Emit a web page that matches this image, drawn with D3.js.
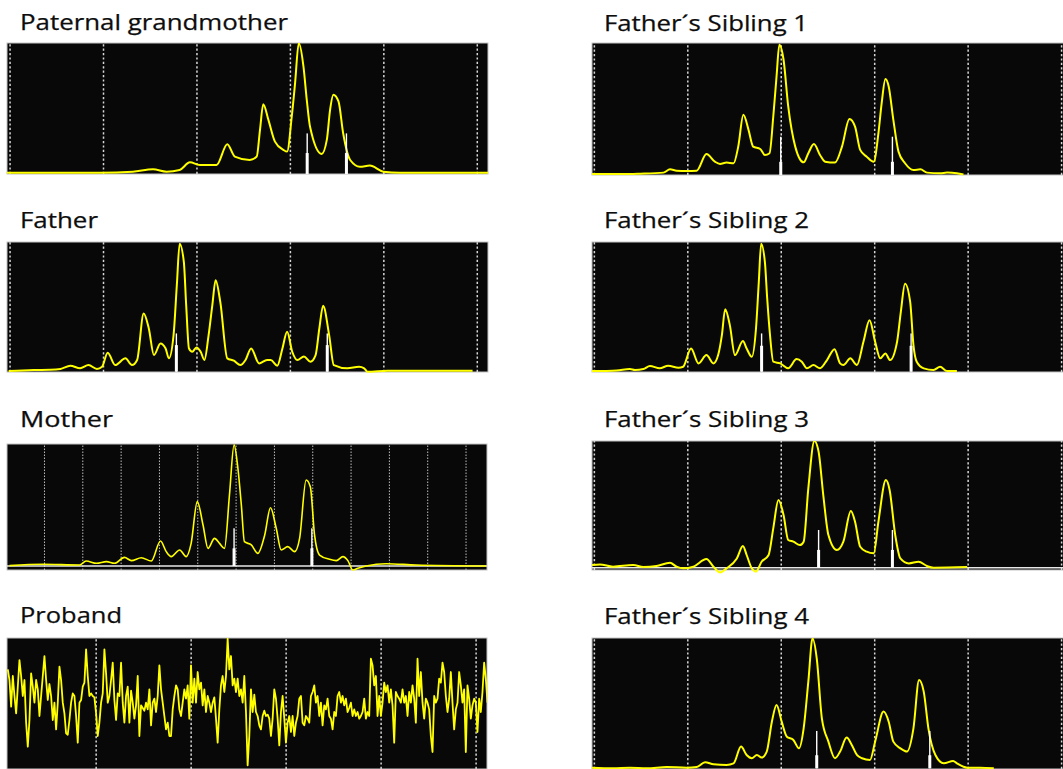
<!DOCTYPE html>
<html><head><meta charset="utf-8">
<script src="https://cdn.jsdelivr.net/npm/d3@7"></script>
<style>body{margin:0;background:#fff;}svg{display:block;}</style>
</head><body>
<svg id="chart" width="1063" height="769"></svg>
<script>
// ---------- DATA ----------
const panelTitles = ["Paternal grandmother","Father´s Sibling 1","Father","Father´s Sibling 2","Mother","Father´s Sibling 3","Proband","Father´s Sibling 4"];
const sizeTicks = [100,120,140,160,180,200];
const motherTicks = [10,20,30,40,50,60,70,80,90,100,110,120];
const probandTicks = [120,140,160,180,200];

// traces: [size, signal %]
const grandmotherTrace = [[99.4,1],[119.3,1],[126.4,1.8],[130.7,3.6],[133.6,1.8],[136.4,3.1],[138.6,8.9],[140.7,6.9],[144.3,6.9],[146.6,22.7],[148.2,13.3],[151.4,10.7],[152.9,13.3],[153.6,33.7],[154.3,53.3],[155.4,41.3],[156.8,24.7],[158.6,18.4],[159.4,17.1],[160.4,43.9],[161.1,69],[161.9,100],[162.9,82.1],[163.6,57],[164.3,36.2],[166.8,15.3],[167.9,26],[168.6,49],[169.3,60.5],[170.4,55.4],[171.4,31.1],[172.9,10.7],[175,5.6],[177.1,6.4],[180,1.8],[183.6,1],[202.5,1]];
const sibling1Trace = [[99.6,0.8],[107.7,0.8],[109.9,1],[114.9,1.8],[116.3,4.3],[117.7,3.3],[119.9,3],[122,3.3],[124.1,15.9],[125.9,10.1],[127,8.4],[128.4,9.4],[129.9,8.9],[130.9,21.5],[132,45.6],[133.1,34.2],[134.1,21.5],[135.6,19.7],[136.6,15.2],[137.6,16.5],[138.4,44.3],[139.1,74.7],[139.7,98.7],[140.6,87.3],[141.6,51.9],[143.1,21.5],[144.9,9.6],[145.9,16.5],[147.1,23.5],[148.4,15.2],[149.5,10.1],[151.6,9.4],[153.1,21.5],[154.7,42.5],[155.9,36.7],[157,19],[158.4,13.9],[159.9,10.1],[160.9,31.6],[161.6,54.4],[162.4,72.7],[163.1,67.1],[164.1,41.8],[165.2,17.7],[166.6,8.9],[168.4,3.8],[169.9,4.3],[171.3,1.8],[174.1,1.3],[175.6,1.8],[177.7,1.3],[179.1,0.3]];
const fatherTrace = [[99.8,0.5],[105.1,1.3],[108.7,1.5],[110.9,2.1],[113,4.6],[115.1,2.6],[116.9,5.1],[118.7,2.1],[119.8,3.8],[121,14.6],[122.6,5.1],[124.8,10.3],[126.2,5.1],[127.3,9],[128.7,44.9],[129.8,33.3],[130.9,12.8],[132.3,21.8],[133.4,17.9],[134.1,10.3],[135.1,28.2],[135.8,66.7],[136.4,98.7],[137.3,84.6],[137.8,51.3],[138.4,17.9],[139.1,15.4],[140,18.7],[140.9,15.4],[141.7,9],[142.6,28.2],[143.4,51.3],[144.1,70.5],[145.1,53.8],[146.6,10.3],[148,8.5],[149.4,5.1],[150.5,9],[151.7,17.9],[153.4,6.4],[155.1,9],[155.9,9],[157.3,4.6],[158.4,17.9],[159.4,30.8],[160.5,15.4],[161.6,9],[163,11.8],[164.4,7.7],[165.5,12.8],[166.3,33.3],[167.1,50.8],[168.4,28.2],[169.4,5.1],[172.3,2.6],[174.8,3.8],[175.9,2.6],[176.6,0],[180.9,0.8],[199.1,0.8]];
const sibling2Trace = [[99.6,0.5],[104.9,1],[107.7,2.1],[108.8,1.3],[110.6,2.1],[112,4.4],[114.1,2.6],[115.9,4.6],[118.1,3.1],[119.1,3.8],[120.8,17.9],[122.4,6.4],[124.1,12.8],[125.6,6.4],[126.6,12.8],[127.4,28.2],[128.1,48.2],[129.1,35.9],[130.2,12.8],[131.9,23.6],[132.7,17.9],[133.8,11.5],[134.7,33.3],[135.3,69.2],[135.8,98.7],[136.6,84.6],[137.1,56.4],[137.7,28.2],[138.4,7.7],[139.9,6.4],[141.6,2.6],[143.4,9.7],[144.5,7.7],[145.6,2.6],[147,5.1],[148.4,2.6],[149.9,9],[151.5,17.4],[152.7,6.4],[153.4,5.1],[154.9,10.3],[156.3,5.1],[157.7,23.1],[159,39.7],[160.2,23.1],[161.3,10.3],[162.4,14.1],[163.4,9],[164.9,23.1],[165.7,46.2],[166.6,67.9],[167.7,53.8],[168.4,20.5],[169.1,7.7],[170.6,2.6],[172.7,1.3],[174.1,3.8],[175.6,0.5],[177.7,0.5]];
const motherTrace = [[1,0.3],[9.7,1.4],[19.3,0.8],[21,4.1],[23.7,2.2],[26.3,3.6],[28.4,2.2],[31,7.1],[32.8,4.4],[35.4,6.8],[38,4.1],[40.4,20.5],[41.9,11.8],[43.2,7.7],[45.4,13.2],[47.1,7.7],[48.4,18.6],[50,52.9],[51.5,33.7],[52.8,14.5],[54.5,22.7],[55.8,18.6],[57.1,14.5],[58.4,58.4],[59.6,99.5],[60.6,80.3],[61.5,50.1],[62.3,20],[64.1,17.3],[65.8,10.4],[67.6,25.5],[69.1,47.9],[70.6,31],[71.9,13.2],[73.6,15.9],[75.4,11.8],[76.7,22.7],[78.4,70.7],[79.5,65.2],[80.6,25.5],[81.9,9],[84.5,5.5],[86.3,4.4],[88,7.7],[89.3,4.4],[90.6,-3.3],[91.9,-1.9],[94.1,0],[99.3,1.9],[107.1,0.8],[125.4,0]];
const sibling3Trace = [[99.6,2.1],[101.3,2.6],[104.1,0.8],[108.4,2.1],[110.6,0.5],[113.4,1.3],[116.3,3.9],[117.7,0.8],[119.1,-0.5],[121.3,0.8],[124.1,6.8],[125.6,0.8],[127,-3.7],[128.4,-0.5],[130.6,7.3],[131.9,17.1],[132.7,10],[133.8,-0.5],[134.7,-3.1],[135.9,4.7],[137.4,10],[138.4,31],[139.5,53.3],[140.6,41.5],[141.6,21.8],[142.7,20.5],[144.1,17.8],[144.9,20.5],[145.9,62.5],[147.2,99.7],[148.1,91.3],[149.1,57.2],[150.2,25.7],[152,13.9],[153.4,20.5],[155,44.6],[155.9,36.2],[157,16.5],[158.4,12.6],[159.9,11.3],[160.9,36.2],[162.5,69],[163.3,61.2],[164.5,25.7],[165.6,7.3],[167.4,3.4],[169.5,4.7],[171.3,1.3],[172.7,0],[179.9,0.5]];
const sibling4Trace = [[99.6,0.5],[104.1,0],[107.7,0.5],[111.3,0],[115.6,1],[119.9,0.5],[122,1],[123.8,4.6],[125.6,3.1],[128.4,2.6],[129.9,3.8],[131.5,16.6],[132.7,10.2],[133.8,7.7],[134.9,10.2],[135.9,8.2],[137,12.8],[138.1,35.7],[139.1,48.5],[140.2,35.7],[141.3,24.2],[142.7,21.7],[143.9,15.3],[144.9,30.6],[145.9,66.3],[146.8,99.5],[147.7,84.2],[148.8,38.3],[150.2,20.4],[151.6,7.7],[152.7,12.8],[154.1,23.5],[155.2,17.9],[156.3,10.2],[157.4,7.7],[159.1,6.4],[160.2,20.4],[162,43.4],[163.1,35.7],[164.1,20.4],[165.6,15.3],[167,12.8],[168.4,30.6],[169.6,67.6],[170.6,58.7],[171.6,30.6],[173.1,10.2],[174.9,3.8],[176.9,5.6],[177.7,3.8],[179.9,0.5],[182.7,0.5],[185.6,0]];
// proband: equally spaced samples over sizes 101.5 .. 202.5
const probandRange = [101.5, 202.5];
const probandSignal = [74,66,46,69,54,41,61,81,69,54,66,34,16,36,71,61,49,66,59,39,54,69,84,66,51,63,54,36,49,29,49,76,66,49,41,26,25,36,49,56,54,39,19,49,51,61,64,89,69,54,56,54,53,41,24,34,49,56,89,71,49,54,66,79,51,36,56,54,79,49,34,54,61,34,
58,49,37,47,69,24,47,45,43,49,44,59,32,49,52,42,54,77,59,49,39,29,34,24,24,44,54,62,59,44,39,49,59,52,62,37,77,49,67,49,72,59,64,47,59,42,54,49,42,49,53,37,19,44,62,69,57,69,97,74,84,62,67,57,67,54,59,49,69,42,2,24,
59,42,55,42,39,32,29,39,43,39,40,37,24,37,59,52,37,17,42,54,37,19,34,39,27,39,24,34,39,52,54,34,32,39,37,34,54,57,62,49,54,39,49,32,47,44,52,39,37,29,42,39,54,57,49,54,47,52,42,45,49,39,44,39,42,37,39,42,52,37,42,39,
82,77,62,69,39,54,39,49,64,57,62,49,59,47,19,57,54,52,49,59,49,54,39,57,49,62,52,34,82,54,72,49,37,52,49,44,24,12,54,49,52,67,64,79,72,54,42,52,72,49,29,44,49,72,62,49,59,12,62,52,37,47,52,49,27,52,42,57,79,67,49];

// called peaks (white markers): [size, top %, thick-part top %]
const grandmotherPeaks = [[163.7,31,16],[172.1,31,16]];
const sibling1Peaks = [[140.0,29,10],[163.9,29,10]];
const fatherPeaks = [[135.7,29.5,20.5],[168.0,29.5,20.5]];
const sibling2Peaks = [[135.9,29.5,20],[167.9,29.5,20]];
const motherPeaks = [[59.6,31,14.5],[79.9,31,14.5]];
const sibling3Peaks = [[148.1,29.7,14],[163.9,29.7,14]];
const probandPeaks = [];
const sibling4Peaks = [[147.7,28.6,10],[171.9,28.6,10]];

// ---------- LAYOUT ----------
const layout = [
  {x:7,  y:43,  w:481, h:131, y0:174,   y100:43,    tx:20,  ty:30,  tw:268, xd:[99.45,202.4], ticks:sizeTicks, trace:grandmotherTrace, peaks:grandmotherPeaks},
  {x:592,y:43,  w:481, h:132, y0:175,   y100:43,    tx:604, ty:31,  tw:204, xd:[99.6,202.55], ticks:sizeTicks, trace:sibling1Trace, peaks:sibling1Peaks},
  {x:7,  y:242, w:481, h:130, y0:371.7, y100:242,   tx:20,  ty:228, tw:78,  xd:[99.45,202.4], ticks:sizeTicks, trace:fatherTrace, peaks:fatherPeaks},
  {x:592,y:242, w:481, h:130, y0:371.7, y100:242,   tx:604, ty:228, tw:205, xd:[99.6,202.55], ticks:sizeTicks, trace:sibling2Trace, peaks:sibling2Peaks},
  {x:7,  y:444, w:480, h:126, y0:566,   y100:444.3, tx:20,  ty:427, tw:93,  xd:[0.35,125.6],  ticks:motherTicks, trace:motherTrace, peaks:motherPeaks, baseline:true, thin:true},
  {x:592,y:441, w:481, h:129, y0:567.7, y100:440.7, tx:604, ty:427, tw:205, xd:[99.6,202.55], ticks:sizeTicks, trace:sibling3Trace, peaks:sibling3Peaks, baseline:true},
  {x:7,  y:638, w:480, h:131, y0:768,   y100:634.7, tx:20,  ty:623, tw:102, xd:[101.33,202.4], ticks:probandTicks, samples:probandSignal, peaks:probandPeaks},
  {x:592,y:638, w:481, h:131, y0:768.3, y100:637.7, tx:604, ty:624, tw:205, xd:[99.6,202.55], ticks:sizeTicks, trace:sibling4Trace, peaks:sibling4Peaks}
];

const svg = d3.select("#chart");
const YELLOW = "#ffff00";

layout.forEach((p, i) => {
  const x = d3.scaleLinear().domain(p.xd).range([p.x, p.x + p.w]);
  const y = d3.scaleLinear().domain([0, 100]).range([p.y0, p.y100]);
  const g = svg.append("g");

  g.append("text").attr("x", p.tx).attr("y", p.ty)
    .attr("font-family", "'Open Sans', sans-serif").attr("font-size", 21.5)
    .attr("textLength", p.tw).attr("lengthAdjust", "spacingAndGlyphs")
    .attr("fill", "#0d0d0d").attr("stroke", "#0d0d0d").attr("stroke-width", 0.25)
    .text(panelTitles[i]);

  g.append("rect").attr("x", p.x).attr("y", p.y).attr("width", p.w).attr("height", p.h)
    .attr("fill", "#080808").attr("stroke", "#c4c4c4").attr("stroke-width", 1);

  const grid = g.append("g").attr("transform", `translate(0,${p.y + p.h})`)
    .call(d3.axisBottom(x).tickValues(p.ticks).tickSize(-p.h).tickFormat(""));
  grid.select(".domain").remove();
  grid.selectAll(".tick line").attr("stroke", p.thin ? "#bdbdbd" : "#d6d6d6")
    .attr("stroke-width", p.thin ? 1 : 1.5).attr("stroke-dasharray", p.thin ? "1.5,1.5" : "2.2,2.2");

  if (p.baseline) {
    g.append("line").attr("x1", p.x).attr("x2", p.x + p.w).attr("y1", y(0)).attr("y2", y(0))
      .attr("stroke", "#e8e8e8").attr("stroke-width", 1.6);
  }

  const clipId = "clip" + i;
  svg.append("clipPath").attr("id", clipId).append("rect")
    .attr("x", p.x).attr("y", p.y).attr("width", p.w).attr("height", p.h + 4);

  if (p.samples) {
    const s = d3.scaleLinear().domain([0, p.samples.length - 1]).range(probandRange);
    const line = d3.line().x((d, k) => x(s(k))).y(d => y(d));
    g.append("path").attr("clip-path", `url(#${clipId})`).attr("d", line(p.samples))
      .attr("fill", "none").attr("stroke", YELLOW).attr("stroke-width", 1.8).attr("stroke-linejoin", "round");
  } else {
    const line = d3.line().x(d => x(d[0])).y(d => y(d[1])).curve(d3.curveMonotoneX);
    g.append("path").attr("clip-path", `url(#${clipId})`).attr("d", line(p.trace))
      .attr("fill", "none").attr("stroke", YELLOW).attr("stroke-width", p.thin ? 1.6 : 2);
  }

  const pk = g.selectAll(".pk").data(p.peaks).join("g");
  pk.append("rect").attr("x", d => x(d[0]) - 0.7).attr("width", 1.4)
    .attr("y", d => y(d[1])).attr("height", d => y(0) - y(d[1])).attr("fill", "#ffffff");
  pk.append("rect").attr("x", d => x(d[0]) - 1.5).attr("width", 3)
    .attr("y", d => y(d[2])).attr("height", d => y(0) - y(d[2])).attr("fill", "#ffffff");
});
</script>
</body></html>
